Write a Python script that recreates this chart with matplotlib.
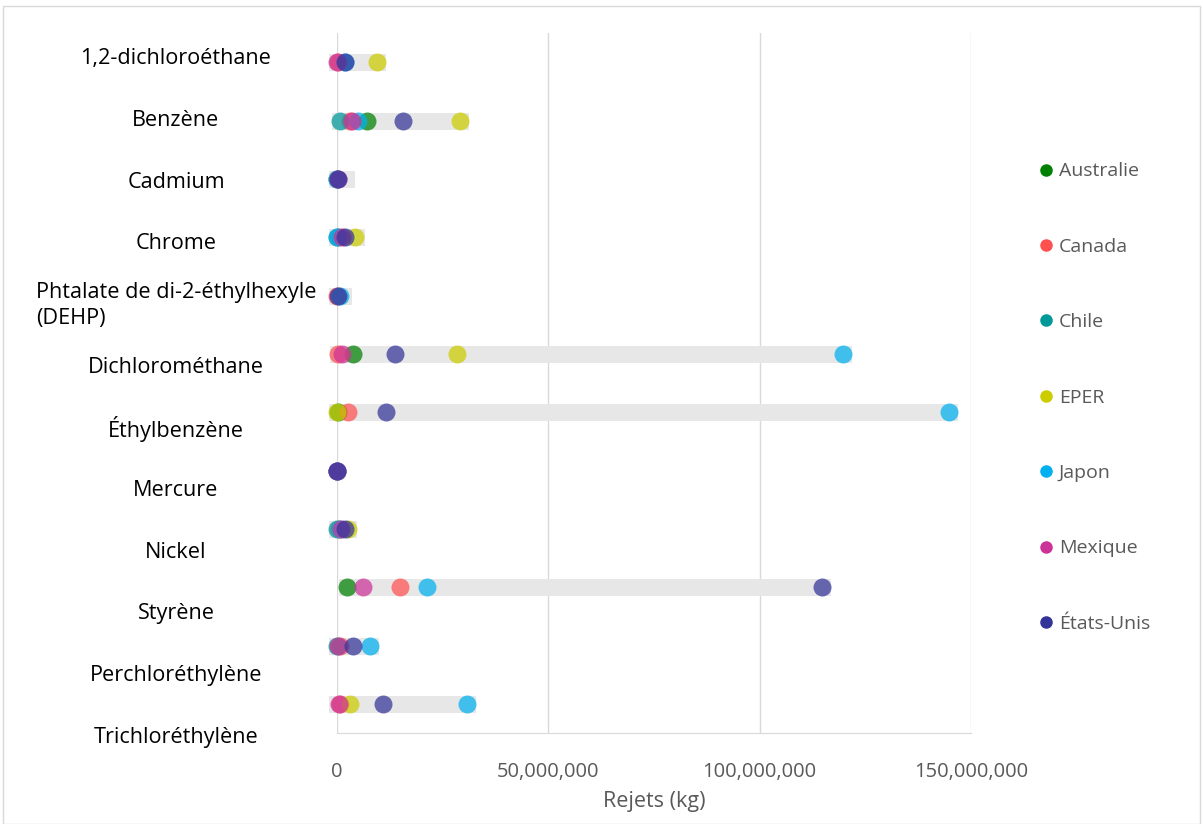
import matplotlib
matplotlib.use('agg')
import numpy as np
import matplotlib.pyplot as plt
from matplotlib.ticker import FuncFormatter
from matplotlib.patches import Rectangle
from matplotlib.lines import Line2D

plt.rcParams['font.family'] = ['Open Sans', 'DejaVu Sans']

# Substances, de haut en bas
substances = ['1,2-dichloroéthane', 'Benzène', 'Cadmium', 'Chrome',
              'Phtalate de di-2-éthylhexyle\n(DEHP)', 'Dichlorométhane',
              'Éthylbenzène', 'Mercure', 'Nickel', 'Styrène',
              'Perchloréthylène', 'Trichloréthylène']

pays = ['Australie', 'Canada', 'Chile', 'EPER', 'Japon', 'Mexique', 'États-Unis']
couleurs = ['#008000', '#ff5050', '#009999', '#cccc00', '#00b0f0', '#cc3399', '#333399']

nan = np.nan
# Rejets en millions de kg, un tableau par pays
australie = [nan, 7.0, nan, nan, nan, 3.7, 0.3, nan, nan, 2.3, nan, nan]
canada    = [0.3, 3.1, 0.1, 0.5, 0.1, 0.3, 2.7, 0.0, 0.5, 14.9, 0.7, 0.6]
chile     = [nan, 0.7, 0.0, 0.1, nan, nan, nan, 0.0, 0.0, nan, 0.0, nan]
eper      = [9.4, 29.1, nan, 4.3, nan, 28.3, 0.1, nan, 2.5, nan, nan, 3.1]
japon     = [1.8, 5.0, 0.0, 0.0, 0.6, 119.6, 144.7, 0.0, 0.8, 21.2, 7.8, 30.7]
mexique   = [0.1, 3.5, 0.3, 1.1, nan, 1.3, nan, 0.0, 1.0, 6.2, 0.2, 0.5]
etats_unis = [2.0, 15.6, 0.2, 1.9, 0.3, 13.7, 11.6, 0.1, 1.9, 114.7, 3.9, 10.8]
series = [australie, canada, chile, eper, japon, mexique, etats_unis]

# Étendue de la bande grise (millions de kg)
bande_min = [0.1, 0.7, 0.0, 0.0, 0.0, 0.3, 0.1, 0.0, 0.0, 2.3, 0.0, 0.0]
bande_max = [9.4, 29.1, 2.2, 4.5, 1.5, 119.6, 144.7, 0.1, 2.5, 114.7, 7.8, 30.7]

W, H = 1203, 824
fig = plt.figure(figsize=(W / 100, H / 100), dpi=100)

ax = fig.add_axes([337 / W, 1 - 733 / H, (971 - 337) / W, (733 - 33) / H])
y = np.arange(len(substances))

# bandes grises min-max
for i in y:
    ax.plot([bande_min[i] * 1e6, bande_max[i] * 1e6], [i, i], color='#e7e7e7',
            lw=12.2, solid_capstyle='projecting', zorder=1, clip_on=False)

for vals, nom, c in zip(series, pays, couleurs):
    ax.scatter(np.array(vals) * 1e6, y, s=168, color=c, alpha=0.72,
               linewidths=0, zorder=3, clip_on=False)

ax.set_xlim(0, 150e6)
ax.set_ylim(len(substances) - 0.5, -0.5)
ax.set_xticks([0, 50e6, 100e6, 150e6])
ax.xaxis.set_major_formatter(FuncFormatter(lambda v, p: f'{v:,.0f}'))
ax.set_yticks([])
ax.grid(axis='x', color='#d9d9d9', lw=1)
ax.set_axisbelow(True)
for s in ['top', 'right', 'left']:
    ax.spines[s].set_visible(False)
ax.spines['bottom'].set_color('#d9d9d9')
ax.tick_params(axis='x', length=0, pad=21, labelsize=14.5, labelcolor='#595959')
ax.set_xlabel('Rejets (kg)', fontsize=15.5, color='#595959', labelpad=6)

# étiquettes des substances
lab = fig.add_axes([30 / W, 1 - 768 / H, (322 - 30) / W, (768 - 28) / H])
lab.set_xlim(0, 1)
lab.set_ylim(len(substances) - 0.5, -0.5)
lab.axis('off')
for i, nom in enumerate(substances):
    lab.text(0.5, i, nom, ha='center', va='center', ma='left',
             fontsize=15.6, color='black', linespacing=1.35)

# légende
poignees = [Line2D([], [], marker='o', ls='', color=c, markersize=8) for c in couleurs]
fig.legend(poignees, pays, loc='upper left', bbox_to_anchor=(1017 / W, 1 - 145 / H),
           frameon=False, fontsize=14, labelcolor='#595959', labelspacing=2.95,
           handletextpad=0.05, handlelength=1.2)

# cadre
fig.patches.append(Rectangle((3 / W, 0), 1197 / W, 818 / H, transform=fig.transFigure,
                             fill=False, edgecolor='#d9d9d9', lw=1))

fig.savefig('out.png', dpi=100)
